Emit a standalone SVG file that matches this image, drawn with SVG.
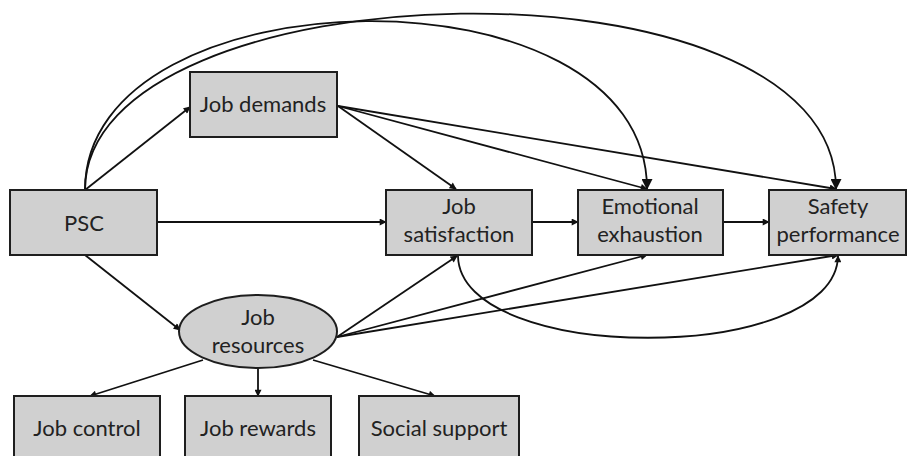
<svg xmlns="http://www.w3.org/2000/svg" width="907" height="456" viewBox="0 0 907 456">
<style>
.box{fill:#d0d0d0;stroke:#1e1e1e;stroke-width:2}
.t{font-family:Lato,"Open Sans","Liberation Sans",sans-serif;font-size:22px;fill:#222;text-anchor:middle}
.c{fill:none;stroke:#111;stroke-width:1.8}
</style>
<defs>
<marker id="a" viewBox="0 0 10 10" refX="9" refY="5" markerWidth="8" markerHeight="7" markerUnits="userSpaceOnUse" orient="auto"><path d="M0,0L10,5L0,10z" fill="#111"/></marker>
<marker id="b" viewBox="0 0 10 10" refX="9" refY="5" markerWidth="13" markerHeight="11" markerUnits="userSpaceOnUse" orient="auto"><path d="M0,0L10,5L0,10z" fill="#111"/></marker>
</defs>
<rect width="907" height="456" fill="#fff"/>
<g id="connectors">
<path class="c" d="M85,190 C85,-35 836,-55 836,189" marker-end="url(#b)"/>
<path class="c" d="M85,190 C85,-30 647,-40 647,189" marker-end="url(#b)"/>
<path class="c" d="M85,190 L190,107" marker-end="url(#a)"/>
<path class="c" d="M157,222 L386,222" marker-end="url(#a)"/>
<path class="c" d="M85,255 L180,330" marker-end="url(#a)"/>
<path class="c" d="M338,106 L456,189" marker-end="url(#a)"/>
<path class="c" d="M338,106 L647,189" marker-end="url(#a)"/>
<path class="c" d="M338,106 L836,189" marker-end="url(#a)"/>
<path class="c" d="M532,222 L578,222" marker-end="url(#a)"/>
<path class="c" d="M723,222 L769,222" marker-end="url(#a)"/>
<path class="c" d="M337,337 L457,256" marker-end="url(#a)"/>
<path class="c" d="M337,337 L647,255" marker-end="url(#a)"/>
<path class="c" d="M337,337 L838,255" marker-end="url(#a)"/>
<path class="c" d="M458,256 C460,365 836,365 838,256" marker-end="url(#a)"/>
<path class="c" d="M203,360 L90,396" marker-end="url(#a)"/>
<path class="c" d="M258,368 L258,396" marker-end="url(#a)"/>
<path class="c" d="M313,360 L435,396" marker-end="url(#a)"/>
</g>
<g id="psc"><rect class="box" x="10" y="190" width="147" height="65"/><text class="t" x="84" y="231">PSC</text></g>
<g id="job-demands"><rect class="box" x="190" y="72" width="147" height="65"/><text class="t" x="263" y="112">Job demands</text></g>
<g id="job-satisfaction"><rect class="box" x="386" y="190" width="146" height="65"/><text class="t" x="459" y="214">Job</text><text class="t" x="459" y="242">satisfaction</text></g>
<g id="emotional-exhaustion"><rect class="box" x="578" y="190" width="145" height="65"/><text class="t" x="650" y="214">Emotional</text><text class="t" x="650" y="242">exhaustion</text></g>
<g id="safety-performance"><rect class="box" x="769" y="190" width="137" height="65"/><text class="t" x="838" y="214">Safety</text><text class="t" x="838" y="242">performance</text></g>
<g id="job-resources"><ellipse fill="#d0d0d0" stroke="#1e1e1e" stroke-width="2" cx="258" cy="331.5" rx="79" ry="36.5"/><text class="t" x="258" y="325">Job</text><text class="t" x="258" y="353">resources</text></g>
<g id="job-control"><rect class="box" x="14" y="396" width="146" height="70"/><text class="t" x="87" y="436">Job control</text></g>
<g id="job-rewards"><rect class="box" x="185" y="396" width="146" height="70"/><text class="t" x="258" y="436">Job rewards</text></g>
<g id="social-support"><rect class="box" x="359" y="396" width="160" height="70"/><text class="t" x="439" y="436">Social support</text></g>
</svg>
